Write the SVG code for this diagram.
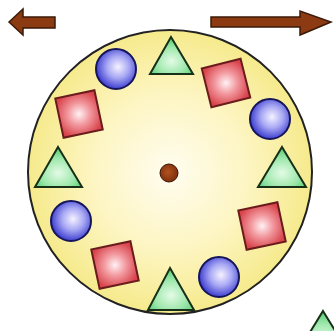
<svg xmlns="http://www.w3.org/2000/svg" width="334" height="331" viewBox="0 0 334 331">
<defs>
<radialGradient id="gDisc" cx="0.5" cy="0.5" r="0.5">
<stop offset="0" stop-color="#fffdf0"/>
<stop offset="0.55" stop-color="#fdf5c2"/>
<stop offset="1" stop-color="#f6ea8c"/>
</radialGradient>
<radialGradient id="gSq" cx="0.5" cy="0.5" r="0.6">
<stop offset="0" stop-color="#fff2f4"/>
<stop offset="0.45" stop-color="#f29aa0"/>
<stop offset="1" stop-color="#d9444c"/>
</radialGradient>
<radialGradient id="gCi" cx="0.55" cy="0.45" r="0.55">
<stop offset="0" stop-color="#f6f2ff"/>
<stop offset="0.5" stop-color="#a8a8f4"/>
<stop offset="1" stop-color="#3f3fd0"/>
</radialGradient>
<radialGradient id="gTr" cx="0.5" cy="0.65" r="0.6">
<stop offset="0" stop-color="#e4fbe6"/>
<stop offset="0.6" stop-color="#9ee8ac"/>
<stop offset="1" stop-color="#5ccf7a"/>
</radialGradient>
<radialGradient id="gDot" cx="0.45" cy="0.45" r="0.6">
<stop offset="0" stop-color="#b2521e"/>
<stop offset="1" stop-color="#7a2e0c"/>
</radialGradient>
</defs>
<style>
.sq{fill:url(#gSq);stroke:#6a1c1c;stroke-width:2}
.ci{fill:url(#gCi);stroke:#15155a;stroke-width:2}
.tr{fill:url(#gTr);stroke:#183018;stroke-width:2;stroke-linejoin:miter}
.ar{fill:#8c3a12;stroke:#3c1a08;stroke-width:1.5;stroke-linejoin:miter}
</style>
<rect width="334" height="331" fill="#ffffff"/>
<g id="arrow-left"><path class="ar" d="M9,22 L23,9 L23,17 L55,17 L55,28 L23,28 L23,35 Z"/></g>
<g id="arrow-right"><path class="ar" d="M211,17 L300,17 L300,11 L331,22 L300,35 L300,27 L211,27 Z"/></g>
<g id="disc"><circle cx="170" cy="172" r="142" fill="url(#gDisc)" stroke="#222" stroke-width="2"/></g>
<g id="center"><circle cx="169" cy="173" r="9" fill="url(#gDot)" stroke="#3a1506" stroke-width="1"/></g>
<g id="tri-top"><polygon class="tr" points="171,37 193,74 150,74"/></g>
<g id="circ-tl"><circle class="ci" cx="116" cy="69" r="20"/></g>
<g id="sq-l"><rect class="sq" x="-20" y="-20" width="40" height="40" transform="translate(79,114) rotate(-12)"/></g>
<g id="tri-l"><polygon class="tr" points="58,147 82,187 35,187"/></g>
<g id="circ-l"><circle class="ci" cx="71" cy="221" r="20"/></g>
<g id="sq-bl"><rect class="sq" x="-20" y="-20" width="40" height="40" transform="translate(115,265) rotate(-12)"/></g>
<g id="tri-b"><polygon class="tr" points="170,268 194,310 148,310"/></g>
<g id="circ-br"><circle class="ci" cx="219" cy="277" r="20"/></g>
<g id="sq-br"><rect class="sq" x="-20" y="-20" width="40" height="40" transform="translate(262,226) rotate(-12)"/></g>
<g id="tri-r"><polygon class="tr" points="282,147 306,187 258,187"/></g>
<g id="circ-r"><circle class="ci" cx="270" cy="119" r="20"/></g>
<g id="sq-tr"><rect class="sq" x="-20" y="-20" width="40" height="40" transform="translate(226,83) rotate(-14)"/></g>
<g id="tri-corner"><polygon class="tr" points="323,311 350,355 296,355"/></g>
</svg>
